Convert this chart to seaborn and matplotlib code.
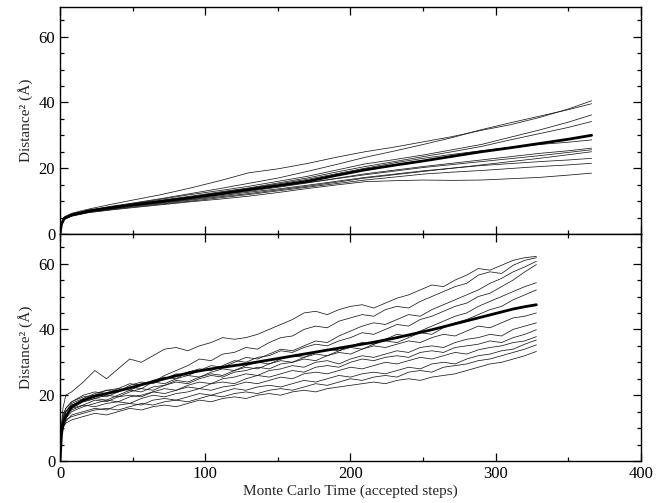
import numpy as np
import pandas as pd
import seaborn as sns
import matplotlib.pyplot as plt
from matplotlib.ticker import MultipleLocator

# ---- top panel: x grid and runs ----
top_steps = [0, 1, 3, 8, 20, 35, 50, 70, 90, 110, 130, 150, 170, 190, 210,
             230, 250, 270, 290, 310, 330, 350, 366]
top_mean = [0, 3.0, 4.8, 5.8, 7.0, 8.0, 8.9, 9.9, 11.0, 12.2, 13.5, 14.7, 16.0,
            17.8, 19.5, 20.9, 22.2, 23.6, 25.0, 26.2, 27.5, 28.8, 30.0]
top_runs = {
    'A': [0, 3.2, 5.2, 6.3, 7.6, 9.0, 10.3, 12.0, 14.0, 16.2, 18.6, 19.8, 21.4,
          23.3, 25.0, 26.4, 28.0, 29.6, 31.5, 33.2, 35.4, 38.0, 40.5],
    'B': [0, 3.0, 5.0, 6.0, 7.3, 8.4, 9.4, 10.8, 12.3, 13.8, 15.4, 17.0, 19.0,
          21.1, 23.3, 25.2, 27.2, 29.3, 31.7, 33.8, 35.8, 37.8, 39.6],
    'C': [0, 3.0, 5.0, 6.0, 7.2, 8.2, 9.2, 10.6, 12.0, 13.2, 14.5, 16.0, 17.5,
          19.4, 21.3, 22.6, 24.0, 25.6, 27.2, 29.4, 31.6, 34.0, 36.2],
    'D': [0, 3.0, 4.9, 5.9, 7.1, 8.1, 9.0, 10.3, 11.5, 12.8, 14.0, 15.5, 17.0,
          18.8, 20.5, 22.0, 23.5, 25.0, 26.6, 28.6, 30.5, 32.4, 34.2],
    'E': [0, 2.9, 4.7, 5.7, 6.8, 7.7, 8.6, 9.7, 10.8, 11.9, 13.0, 14.2, 15.5,
          16.9, 18.3, 19.4, 20.5, 21.5, 22.5, 23.5, 24.5, 25.3, 26.1],
    'F': [0, 3.0, 4.8, 5.8, 6.9, 7.9, 8.8, 9.9, 11.0, 12.2, 13.3, 14.5, 15.6,
          16.8, 18.0, 19.1, 20.2, 21.1, 22.0, 22.9, 23.8, 24.8, 25.6],
    'G': [0, 2.8, 4.6, 5.6, 6.7, 7.6, 8.4, 9.3, 10.3, 11.3, 12.3, 13.4, 14.5,
          15.7, 17.0, 18.0, 19.0, 20.0, 21.0, 22.0, 23.0, 24.1, 25.0],
    'H': [0, 2.8, 4.5, 5.5, 6.6, 7.4, 8.2, 9.1, 10.0, 11.0, 12.0, 13.1, 14.2,
          15.3, 16.4, 17.3, 18.2, 18.8, 19.3, 19.9, 20.5, 21.0, 21.5],
    'I': [0, 2.7, 4.4, 5.4, 6.5, 7.3, 8.0, 8.9, 9.8, 10.6, 11.5, 12.6, 13.8,
          14.9, 15.9, 16.2, 16.4, 16.3, 16.4, 16.8, 17.2, 17.9, 18.5],
    'J': [0, 2.9, 4.8, 5.8, 7.0, 8.0, 9.0, 10.1, 11.3, 12.6, 13.9, 15.2, 16.6,
          18.3, 20.0, 21.6, 23.0, 24.2, 25.3, 26.3, 27.2, 27.9, 28.6],
    'K': [0, 2.9, 4.6, 5.6, 6.7, 7.6, 8.5, 9.5, 10.5, 11.6, 12.7, 13.7, 14.8,
          16.0, 17.2, 18.2, 19.2, 20.0, 20.8, 21.4, 22.0, 22.5, 23.0],
}

# ---- bottom panel ----
bot_steps = [0, 1, 2, 4] + list(range(8, 329, 8))
bot_mean = [0, 8, 11, 13.5, 16.5, 18.5, 19.7, 20.5, 21.3, 22.2, 23.2, 24.1, 25,
            25.9, 26.7, 27.4, 28, 28.5, 29, 29.5, 30.1, 30.7, 31.3, 31.9, 32.5,
            33.1, 33.7, 34.3, 34.9, 35.5, 36.1, 36.8, 37.5, 38.3, 39.1, 39.9,
            40.8, 41.7, 42.6, 43.5, 44.4, 45.3, 46.2, 46.9, 47.5]
bot_runs = {
    'L3': [0, 10, 16, 20, 21, 24, 27.5, 25, 28, 31, 30, 32, 34, 34.5, 33.5, 35,
           36, 37.5, 37, 37.5, 38.5, 40, 41.5, 43, 45, 45.5, 44.5, 46, 47, 47.5,
           46.5, 48, 49.5, 50.5, 52, 53.5, 53, 55, 56.5, 58.5, 58, 59.5, 61,
           61.8, 62.2],
    'L1': [0, 9, 12, 15, 17, 18.5, 20, 19.5, 21, 22.5, 22, 24, 26, 27.5, 29, 31,
           30.5, 32.5, 33, 34.5, 34, 36, 37.5, 38, 40, 41, 40.5, 42.5, 43.5,
           44.5, 44, 46, 47, 46.5, 48.5, 50, 51.5, 53, 54, 56.5, 57.5, 57, 59.5,
           61, 61.8],
    'L2': [0, 10, 13, 15, 17.5, 19, 20.5, 21.5, 21, 23, 24, 23.5, 25, 26.5, 26,
           27.5, 29, 28.5, 30, 31.5, 31, 32.5, 34, 33.5, 35, 36.5, 36, 38, 39.5,
           41, 42, 41.5, 43, 44.5, 44, 46, 47.5, 49, 50.5, 52, 54, 55.5, 57.5,
           59, 60.7],
    'L4': [0, 11, 14, 16, 18, 20, 21, 20.5, 22, 23.5, 23, 24.5, 25.5, 25, 27,
           28, 27.5, 29, 30.5, 30, 31.5, 32, 33.5, 33, 34.5, 35.5, 35, 36.5,
           37.5, 39, 38.5, 40, 41.5, 41, 43, 44, 45.5, 47, 48, 50, 51, 53, 55,
           57.5, 59.7],
    'L5': [0, 10, 13, 16, 18, 19.5, 20, 21.5, 22, 21.5, 23, 24, 23.5, 25, 26,
           25.5, 27, 28, 27.5, 29, 30, 29.5, 31, 32, 31.5, 33, 34, 33.5, 35, 36,
           35.5, 37, 38.5, 38, 39.5, 41, 42.5, 44, 45, 47, 48.5, 50, 51.5, 53,
           54.2],
    'L6': [0, 9, 12, 14, 16, 18, 19, 18.5, 20, 21.5, 21, 22.5, 23, 24.5, 24,
           25.5, 26.5, 26, 27.5, 28.5, 28, 29.5, 30.5, 30, 31.5, 32.5, 32, 33.5,
           34.5, 34, 35.5, 36.5, 36, 37.5, 39, 38.5, 40.5, 42, 43, 44.5, 46, 47,
           49, 50.5, 52],
    'L7': [0, 10, 13, 15, 17, 18, 19, 20, 19.5, 21, 22, 21.5, 23, 24, 23.5, 25,
           26, 25.5, 27, 27.5, 28.5, 28, 29.5, 30, 31, 30.5, 32, 33, 32.5, 34,
           35, 34.5, 35.5, 36.5, 36, 37.5, 38.5, 38, 39.5, 41, 40.5, 42, 43.5,
           44, 45],
    'L8': [0, 9, 12, 14, 16, 17, 18.5, 18, 19.5, 20, 19.5, 21, 22, 21.5, 23, 24,
           23.5, 25, 25.5, 26.5, 26, 27.5, 28, 29, 28.5, 30, 30.5, 29.5, 31, 32,
           31.5, 32.5, 33.5, 33, 34.5, 35, 34.5, 36, 37, 37.5, 38.5, 38, 40, 41,
           42],
    'L9': [0, 8, 11, 13, 15, 16.5, 17.5, 18.5, 18, 19.5, 20, 21, 20.5, 21.5,
           22.5, 22, 23.5, 24, 23.5, 25, 26, 25.5, 26.5, 27.5, 27, 28.5, 29,
           28.5, 30, 31, 30.5, 31.5, 32, 31.5, 33, 33.5, 33, 34.5, 35, 35.5,
           36.5, 36, 37.5, 38.5, 39.9],
    'L10': [0, 9, 12, 14, 15.5, 17, 16.5, 17.5, 18, 17.5, 19, 20, 19.5, 20.5,
            21, 22, 21.5, 22.5, 23, 24, 23.5, 24.5, 25.5, 25, 26.5, 27, 26.5,
            27.5, 28.5, 28, 29, 30, 29.5, 30.5, 31.5, 31, 32, 33, 32.5, 33.8,
            34.5, 35, 36, 36.5, 37.8],
    'L11': [0, 7, 10, 12, 14, 15, 16, 15.5, 17, 17.5, 17, 18.5, 19, 18.5, 19.5,
            20.5, 20, 21, 22, 21.5, 22.5, 23, 22.5, 23.5, 24.5, 24, 25, 26, 25.5,
            26.5, 27, 26.5, 27.5, 28.5, 28, 29.5, 30, 29.5, 31, 32, 32.5, 33.5,
            34, 35.5, 36.8],
    'L12': [0, 8, 11, 12.5, 13.5, 14.5, 15.5, 16, 15.5, 16.5, 17.5, 17, 18,
            18.5, 18, 19, 20, 19.5, 20.5, 21, 20.5, 21.5, 22, 21.5, 22.5, 23.5,
            23, 24, 25, 24.5, 25.5, 26, 25.5, 27, 27.5, 27, 28.5, 29, 29.5, 30.5,
            31, 32, 33, 34, 35.3],
    'L13': [0, 7, 10, 11.5, 12.5, 13.5, 14.5, 14, 15, 16, 15.5, 16.5, 17, 16.5,
            17.5, 18.5, 18, 19, 19.5, 19, 20, 20.5, 20, 21, 21.5, 21, 22, 22.5,
            23, 23.5, 24, 23.5, 24.5, 25, 24.5, 25.5, 26, 26.5, 27.5, 28.5, 29.5,
            30, 31, 32, 33.3],
}


def long_form(steps, runs):
    frames = []
    for name, vals in runs.items():
        frames.append(pd.DataFrame({'step': steps, 'd2': vals, 'run': name}))
    return pd.concat(frames, ignore_index=True)


sns.set_theme(style="ticks")
plt.rcParams['font.family'] = ['Liberation Serif', 'DejaVu Serif']
plt.rcParams['xtick.direction'] = 'in'
plt.rcParams['ytick.direction'] = 'in'

fig = plt.figure(figsize=(6.63, 5.03), dpi=100)
ax_top = fig.add_axes([0.0905, 0.5348, 0.8763, 0.4513])
ax_bot = fig.add_axes([0.0905, 0.0835, 0.8763, 0.4513])

panels = [(ax_top, top_steps, top_runs, top_mean),
          (ax_bot, bot_steps, bot_runs, bot_mean)]
for ax, steps, runs, mean in panels:
    df = long_form(steps, runs)
    # individual runs thin, average thick
    sns.lineplot(data=df, x='step', y='d2', units='run', estimator=None,
                 color='#1a1a1a', lw=0.55, ax=ax, legend=False)
    sns.lineplot(x=steps, y=mean, color='black', lw=2.0, ax=ax)
    ax.set_xlim(0, 400)
    ax.set_ylim(0, 69)
    ax.xaxis.set_major_locator(MultipleLocator(100))
    ax.xaxis.set_minor_locator(MultipleLocator(50))
    ax.yaxis.set_major_locator(MultipleLocator(20))
    ax.yaxis.set_minor_locator(MultipleLocator(5))
    ax.tick_params(which='both', top=True, right=True, direction='in',
                   labelsize=12, width=0.9, colors='black')
    ax.tick_params(which='major', length=6)
    ax.tick_params(which='minor', length=3)
    for s in ax.spines.values():
        s.set_linewidth(1.0)
        s.set_color('black')
    ax.set_ylabel('Distance² (Å)', fontsize=11)
    ax.set_xlabel('')

ax_top.tick_params(labelbottom=False)
ax_bot.set_xlabel('Monte Carlo Time (accepted steps)', fontsize=11, labelpad=2)

fig.savefig('out.png', dpi=100)
